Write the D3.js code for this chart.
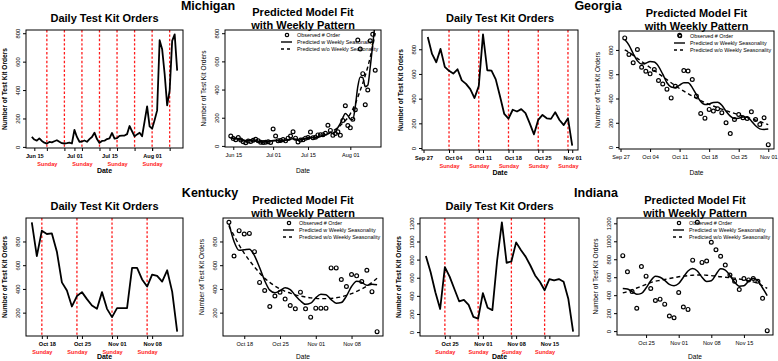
<!DOCTYPE html>
<html>
<head>
<meta charset="utf-8">
<script src="https://cdn.jsdelivr.net/npm/d3@7"></script>
<style>
  body { margin: 0; background: #fff; }
  svg { display: block; font-family: "Liberation Sans", Arial, Helvetica, sans-serif; }
</style>
</head>
<body>
<div id="chart"></div>
<script>
// ---- data ----
const michiganStart = "2021-06-14";
const michiganOrders = [70, 52, 44, 60, 42, 30, 23, 35, 32, 40, 47, 36, 26, 24, 26, 30, 24, 120, 70, 36,
  38, 45, 36, 55, 70, 100, 55, 28, 42, 44, 55, 60, 98, 58, 62, 78, 80, 80, 90, 147,
  110, 75, 88, 100, 75, 180, 285, 145, 128, 190, 257, 751, 688, 513, 292, 397, 746, 792, 537];
const michiganWeekly = [60, 55, 50, 52, 48, 40, 35, 38, 40, 42, 38, 33, 28, 27, 30, 33, 35, 38, 40, 36,
  33, 35, 40, 45, 48, 50, 46, 42, 44, 48, 52, 58, 62, 58, 56, 60, 68, 75, 80, 85,
  95, 88, 100, 130, 160, 200, 230, 215, 190, 188, 280, 420, 490, 485, 420, 430, 560, 720, 880];
const michiganNoWeekly = [55, 52, 48, 45, 42, 40, 38, 36, 35, 34, 33, 32, 31, 31, 31, 32, 33, 35, 37, 38,
  39, 40, 41, 42, 44, 46, 47, 48, 49, 50, 52, 54, 56, 58, 61, 63, 66, 71, 78, 87,
  96, 106, 117, 130, 145, 162, 180, 200, 228, 262, 300, 345, 395, 445, 500, 560, 630, 710, 800];
const michiganTicks = ["2021-06-15", "2021-07-01", "2021-07-15", "2021-08-01"];
const michiganSundays = ["2021-06-20", "2021-06-27", "2021-07-04", "2021-07-11", "2021-07-18", "2021-07-25", "2021-08-01", "2021-08-08"];
const michiganYTicks = [0, 200, 400, 600, 800];

const georgiaStart = "2021-09-28";
const georgiaOrders = [899, 762, 695, 803, 658, 625, 603, 638, 548, 520, 477, 405, 501, 920, 630, 627, 556, 420,
  276, 238, 310, 296, 315, 283, 200, 111, 228, 268, 241, 236, 290, 227, 186, 241, 20];
const georgiaWeekly = [885, 840, 770, 710, 685, 690, 705, 700, 665, 600, 530, 495, 490, 510, 530, 530, 490, 430,
  375, 350, 355, 368, 370, 345, 295, 255, 235, 238, 248, 245, 215, 175, 150, 145, 148];
const georgiaNoWeekly = [800, 780, 755, 730, 705, 680, 655, 630, 605, 580, 555, 530, 505, 482, 460, 440, 420, 400,
  383, 367, 352, 338, 325, 312, 300, 288, 277, 266, 255, 244, 233, 222, 210, 198, 185];
const georgiaTicks = ["2021-09-27", "2021-10-04", "2021-10-11", "2021-10-18", "2021-10-25", "2021-11-01"];
const georgiaSundays = ["2021-10-03", "2021-10-10", "2021-10-17", "2021-10-24", "2021-10-31"];
const georgiaYTicks = [0, 200, 400, 600, 800];

const kentuckyStart = "2021-10-15";
const kentuckyOrders = [961, 677, 891, 863, 868, 714, 455, 387, 252, 340, 373, 314, 260, 232, 373,
  232, 162, 238, 238, 238, 577, 577, 480, 420, 521, 510, 462, 557, 377, 40];
const kentuckyWeekly = [950, 800, 725, 730, 735, 680, 580, 470, 390, 368, 385, 410, 395, 345, 300,
  270, 280, 325, 355, 350, 310, 280, 285, 340, 420, 465, 455, 430, 440, 435];
const kentuckyNoWeekly = [930, 850, 770, 700, 640, 585, 535, 490, 455, 425, 400, 380, 365, 350, 340,
  332, 325, 320, 318, 318, 320, 325, 333, 345, 360, 380, 400, 425, 455, 490];
const kentuckyTicks = ["2021-10-18", "2021-10-25", "2021-11-01", "2021-11-08"];
const kentuckySundays = ["2021-10-17", "2021-10-24", "2021-10-31", "2021-11-07"];
const kentuckyYTicks = [200, 400, 600, 800];

const indianaStart = "2021-10-20";
const indianaOrders = [840, 660, 440, 255, 718, 612, 475, 340, 356, 300, 168, 148, 430, 268, 242, 790,
  1211, 765, 780, 990, 906, 833, 735, 625, 555, 462, 585, 570, 585, 555, 365, 5];
const indianaWeekly = [475, 470, 440, 410, 420, 480, 560, 612, 600, 565, 520, 505, 530, 600, 670, 697,
  670, 600, 552, 560, 630, 695, 680, 620, 545, 500, 505, 555, 585, 560, 480, 395];
const indianaNoWeekly = [425, 440, 460, 480, 500, 520, 540, 555, 565, 575, 585, 595, 605, 612, 618, 622,
  625, 625, 622, 618, 612, 605, 600, 595, 590, 580, 570, 560, 548, 530, 505, 475];
const indianaTicks = ["2021-10-25", "2021-11-01", "2021-11-08", "2021-11-15"];
const indianaSundays = ["2021-10-24", "2021-10-31", "2021-11-07", "2021-11-14"];
const indianaYTicks = [0, 200, 400, 600, 800, 1000, 1200];

const legendLabels = ["Observed # Order", "Predicted w Weekly Seasonality", "Predicted w/o Weekly Seasonality"];

// ---- layout ----
const W = 778, H = 361;
const parseDate = d3.utcParse("%Y-%m-%d");
const fmt = d3.utcFormat("%b %d");

const states = {
  Michigan: { start: michiganStart, orders: michiganOrders, weekly: michiganWeekly, noWeekly: michiganNoWeekly,
              ticks: michiganTicks, sundays: michiganSundays, yTicks: michiganYTicks },
  Georgia: { start: georgiaStart, orders: georgiaOrders, weekly: georgiaWeekly, noWeekly: georgiaNoWeekly,
             ticks: georgiaTicks, sundays: georgiaSundays, yTicks: georgiaYTicks },
  Kentucky: { start: kentuckyStart, orders: kentuckyOrders, weekly: kentuckyWeekly, noWeekly: kentuckyNoWeekly,
              ticks: kentuckyTicks, sundays: kentuckySundays, yTicks: kentuckyYTicks },
  Indiana: { start: indianaStart, orders: indianaOrders, weekly: indianaWeekly, noWeekly: indianaNoWeekly,
             ticks: indianaTicks, sundays: indianaSundays, yTicks: indianaYTicks }
};

const panels = [
  { state: "Michigan", kind: "daily", l: 26, r: 183, t: 30, b: 148 },
  { state: "Michigan", kind: "fit", l: 225, r: 381, t: 30, b: 147 },
  { state: "Georgia", kind: "daily", l: 422, r: 578, t: 30, b: 150 },
  { state: "Georgia", kind: "fit", l: 619, r: 774, t: 31, b: 149 },
  { state: "Kentucky", kind: "daily", l: 26, r: 183, t: 218, b: 336 },
  { state: "Kentucky", kind: "fit", l: 223, r: 383, t: 218, b: 336 },
  { state: "Indiana", kind: "daily", l: 420, r: 579, t: 218, b: 336 },
  { state: "Indiana", kind: "fit", l: 617, r: 773, t: 218, b: 335 }
];

const stateTitles = [
  { name: "Michigan", x: 208, y: 6 },
  { name: "Georgia", x: 598, y: 6 },
  { name: "Kentucky", x: 210, y: 193 },
  { name: "Indiana", x: 596, y: 193 }
];

const svg = d3.select("#chart").append("svg")
  .attr("width", W)
  .attr("height", H);

stateTitles.forEach(s => {
  svg.append("text")
    .attr("x", s.x).attr("y", s.y)
    .attr("text-anchor", "middle")
    .attr("dominant-baseline", "central")
    .style("font-size", "12.5px").style("font-weight", "bold")
    .text(s.name);
});

panels.forEach((p, k) => drawPanel(p, k));

function drawPanel(p, k) {
  const st = states[p.state];
  const dates = st.orders.map((_, i) => d3.utcDay.offset(parseDate(st.start), i));
  const rows = st.orders.map((v, i) => ({ date: dates[i], obs: v, weekly: st.weekly[i], noWeekly: st.noWeekly[i] }));

  // R style 4% padding on both axes
  const [t0, t1] = d3.extent(dates);
  const tp = (t1 - t0) * 0.04;
  const [v0, v1] = d3.extent(st.orders);
  const vp = (v1 - v0) * 0.04;

  const x = d3.scaleUtc().domain([new Date(+t0 - tp), new Date(+t1 + tp)]).range([p.l, p.r]);
  const y = d3.scaleLinear().domain([v0 - vp, v1 + vp]).range([p.b, p.t]);

  const g = svg.append("g");
  const daily = p.kind === "daily";

  // titles
  const cx = (p.l + p.r) / 2;
  if (daily) {
    g.append("text").attr("x", cx).attr("y", p.t - 12)
      .attr("text-anchor", "middle").attr("dominant-baseline", "central")
      .style("font-size", "11px").style("font-weight", "bold")
      .text("Daily Test Kit Orders");
  } else {
    ["Predicted Model Fit", "with Weekly Pattern"].forEach((s, j) => {
      g.append("text").attr("x", cx).attr("y", p.t - 18.5 + j * 13)
        .attr("text-anchor", "middle").attr("dominant-baseline", "central")
        .style("font-size", "11px").style("font-weight", "bold")
        .text(s);
    });
  }

  // y axis
  const yAxis = g.append("g")
    .attr("transform", `translate(${p.l},0)`)
    .call(d3.axisLeft(y).tickValues(st.yTicks).tickFormat(d3.format("d")).tickSize(3).tickSizeOuter(0));
  yAxis.select(".domain").remove();
  yAxis.selectAll("line").attr("stroke", "#000");
  yAxis.selectAll("text")
    .attr("x", 0).attr("y", -8.5).attr("dy", null)
    .attr("transform", "rotate(-90)")
    .attr("text-anchor", "middle")
    .attr("dominant-baseline", "central")
    .style("font-size", "5.8px")
    .style("font-family", "inherit")
    .attr("fill", "#000");

  g.append("text")
    .attr("transform", `translate(${p.l - 22},${(p.t + p.b) / 2}) rotate(-90)`)
    .attr("text-anchor", "middle").attr("dominant-baseline", "central")
    .style("font-size", "6.6px").style("font-weight", daily ? "bold" : "normal")
    .text("Number of Test Kit Orders");

  // x axis (dates)
  const xAxis = g.append("g")
    .attr("transform", `translate(0,${p.b})`)
    .call(d3.axisBottom(x).tickValues(st.ticks.map(parseDate)).tickFormat(fmt).tickSize(3).tickSizeOuter(0));
  xAxis.select(".domain").remove();
  xAxis.selectAll("line").attr("stroke", "#000");
  xAxis.selectAll("text")
    .attr("y", 8).attr("dy", null)
    .attr("dominant-baseline", "central")
    .style("font-size", "5.6px")
    .style("font-weight", daily ? "bold" : "normal")
    .style("font-family", "inherit")
    .attr("fill", "#000");

  g.append("text")
    .attr("x", cx).attr("y", Math.min(p.b + (daily ? 22.5 : 23.5), H - 4.5))
    .attr("text-anchor", "middle").attr("dominant-baseline", "central")
    .style("font-size", daily ? "7px" : "6.6px").style("font-weight", daily ? "bold" : "normal")
    .text("Date");

  // clip for the lines
  const clipId = "clip" + k;
  g.append("clipPath").attr("id", clipId)
    .append("rect").attr("x", p.l).attr("y", p.t).attr("width", p.r - p.l).attr("height", p.b - p.t);
  const plot = g.append("g").attr("clip-path", `url(#${clipId})`);

  if (daily) {
    const sundays = st.sundays.map(parseDate);
    // red dashed Sunday markers
    plot.selectAll("line.sunday")
      .data(sundays)
      .enter()
      .append("line")
      .attr("class", "sunday")
      .attr("x1", d => x(d)).attr("x2", d => x(d))
      .attr("y1", p.t).attr("y2", p.b)
      .attr("stroke", "#ff1a1a")
      .attr("stroke-width", 1.3)
      .attr("stroke-dasharray", "2.4,2");

    // Sunday axis ticks + labels (drop labels that would overlap, like R does)
    const sAxis = g.append("g")
      .attr("transform", `translate(0,${p.b})`)
      .call(d3.axisBottom(x).tickValues(sundays).tickFormat(() => "Sunday").tickSize(3).tickSizeOuter(0));
    sAxis.select(".domain").remove();
    sAxis.selectAll("line").attr("stroke", "#000");
    let lastRight = -Infinity;
    sAxis.selectAll("text")
      .attr("y", 15.5).attr("dy", null)
      .attr("dominant-baseline", "central")
      .style("font-size", "5.6px").style("font-weight", "bold")
      .style("font-family", "inherit")
      .attr("fill", "#ff1a1a")
      .each(function (d) {
        const w = this.getComputedTextLength();
        const left = x(d) - w / 2;
        if (left < lastRight + 2) d3.select(this).remove();
        else lastRight = x(d) + w / 2;
      });

    plot.append("path")
      .datum(rows)
      .attr("fill", "none")
      .attr("stroke", "#000")
      .attr("stroke-width", 1.8)
      .attr("stroke-linejoin", "round")
      .attr("d", d3.line().x(d => x(d.date)).y(d => y(d.obs)));
  } else {
    plot.append("path")
      .datum(rows)
      .attr("fill", "none")
      .attr("stroke", "#000")
      .attr("stroke-width", 1.4)
      .attr("stroke-dasharray", "4,3")
      .attr("d", d3.line().curve(d3.curveMonotoneX).x(d => x(d.date)).y(d => y(d.noWeekly)));

    plot.append("path")
      .datum(rows)
      .attr("fill", "none")
      .attr("stroke", "#000")
      .attr("stroke-width", 1.5)
      .attr("d", d3.line().curve(d3.curveMonotoneX).x(d => x(d.date)).y(d => y(d.weekly)));

    g.selectAll("circle.obs")
      .data(rows)
      .enter()
      .append("circle")
      .attr("class", "obs")
      .attr("cx", d => x(d.date))
      .attr("cy", d => y(d.obs))
      .attr("r", 1.9)
      .attr("fill", "none")
      .attr("stroke", "#000")
      .attr("stroke-width", 1.2);

    // legend (no box)
    const lg = g.append("g").attr("transform", `translate(${p.r - 94},${p.t + 5})`);
    legendLabels.forEach((s, j) => {
      const ly = j * 7;
      if (j === 0) {
        lg.append("circle").attr("cx", 0).attr("cy", ly).attr("r", 1.7)
          .attr("fill", "none").attr("stroke", "#000").attr("stroke-width", 1.2);
      } else {
        lg.append("line").attr("x1", -6).attr("x2", 5).attr("y1", ly).attr("y2", ly)
          .attr("stroke", "#000").attr("stroke-width", 1.4)
          .attr("stroke-dasharray", j === 2 ? "3,3" : null);
      }
      lg.append("text").attr("x", 10).attr("y", ly)
        .attr("dominant-baseline", "central")
        .style("font-size", "5.4px")
        .text(s);
    });
  }

  // plot box
  g.append("rect")
    .attr("x", p.l).attr("y", p.t)
    .attr("width", p.r - p.l).attr("height", p.b - p.t)
    .attr("fill", "none")
    .attr("stroke", "#000")
    .attr("stroke-width", 1);
}
</script>
</body>
</html>
